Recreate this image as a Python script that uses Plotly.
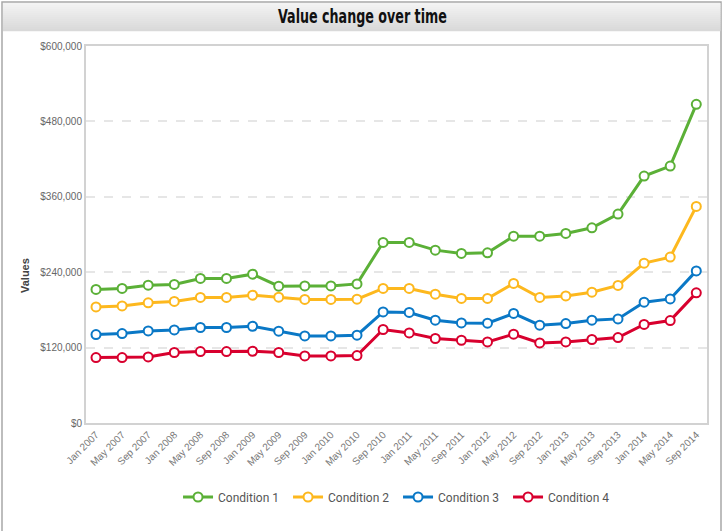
import plotly.graph_objects as go

categories = ["Jan 2007", "May 2007", "Sep 2007", "Jan 2008", "May 2008", "Sep 2008",
              "Jan 2009", "May 2009", "Sep 2009", "Jan 2010", "May 2010", "Sep 2010",
              "Jan 2011", "May 2011", "Sep 2011", "Jan 2012", "May 2012", "Sep 2012",
              "Jan 2013", "May 2013", "Sep 2013", "Jan 2014", "May 2014", "Sep 2014"]

condition_1 = [212500, 214100, 219400, 220500, 230000, 230000, 236900, 217800, 218200, 218200,
               221400, 287400, 287400, 275100, 269900, 270800, 297400, 297400, 301700, 310600,
               332500, 393000, 408900, 507200]
condition_2 = [184800, 186400, 191200, 193400, 199800, 199800, 203400, 200200, 196600, 196600,
               197100, 214100, 214100, 205000, 198200, 198200, 222100, 199800, 202300, 208200,
               218900, 254400, 264000, 344700]
condition_3 = [140800, 142400, 146600, 148200, 152000, 152000, 154000, 146100, 138600, 138600,
               139700, 176800, 175900, 163600, 159300, 158800, 174300, 155600, 158300, 163600,
               165700, 192300, 197500, 242100]
condition_4 = [104200, 104200, 105100, 112200, 113700, 113700, 114200, 112200, 106700, 106700,
               107400, 148800, 143400, 134500, 131700, 129000, 141300, 127400, 129000, 132900,
               136000, 156800, 163100, 207100]

series_names = ["Condition 1", "Condition 2", "Condition 3", "Condition 4"]
series_values = [condition_1, condition_2, condition_3, condition_4]
colors = ["#5BB037", "#FDB81E", "#0A78C6", "#D8002E"]

y_ticks = [0, 120000, 240000, 360000, 480000, 600000]
y_tick_labels = ["$0", "$120,000", "$240,000", "$360,000", "$480,000", "$600,000"]

W, H = 723, 531
L, R, T, B = 86, 16, 46, 108
PW, PH = W - L - R, H - T - B


def px(xp):
    return (xp - L) / PW


def py(yp):
    return (H - B - yp) / PH


fig = go.Figure()
for name, vals, col in zip(series_names, series_values, colors):
    fig.add_trace(go.Scatter(
        x=list(range(len(categories))), y=vals, name=name, mode="lines+markers",
        line=dict(color=col, width=3),
        marker=dict(symbol="circle", size=9, color="white", line=dict(color=col, width=2)),
    ))

shapes = []
# outer frame
shapes.append(dict(type="rect", xref="paper", yref="paper", x0=px(2), x1=px(721), y0=py(540), y1=py(2),
                   line=dict(color="#a8a8a8", width=1.5), fillcolor="rgba(0,0,0,0)", layer="below"))
# title gradient band
n = 14
top, bot = 3, 31
for i in range(n):
    y0 = top + (bot - top) * i / n
    y1 = top + (bot - top) * (i + 1) / n
    c = int(243 - (243 - 217) * i / (n - 1))
    shapes.append(dict(type="rect", xref="paper", yref="paper", x0=px(3), x1=px(720.5),
                       y0=py(y1 + 0.3), y1=py(y0), line=dict(width=0),
                       fillcolor=f"rgb({c},{c},{c})", layer="below"))

annotations = [
    dict(text="<b>Value change over time</b>", xref="paper", yref="paper", x=px(362), y=py(16),
         xanchor="center", yanchor="middle", showarrow=False,
         font=dict(family="Liberation Sans Narrow, DejaVu Sans", size=19, color="#111")),
    dict(text="<b>Values</b>", xref="paper", yref="paper", x=px(25), y=py(275), textangle=-90,
         xanchor="center", yanchor="middle", showarrow=False,
         font=dict(family="Liberation Sans, Arial", size=11, color="#444")),
]

fig.update_layout(
    width=W, height=H, margin=dict(l=L, r=R, t=T, b=B),
    paper_bgcolor="white", plot_bgcolor="white",
    shapes=shapes, annotations=annotations,
    showlegend=True,
    legend=dict(orientation="h", x=px(183) - 0.008, xanchor="left", y=py(497), yanchor="middle",
                font=dict(family="Roboto, Liberation Sans", size=12, color="#555"),
                entrywidth=65, entrywidthmode="pixels", bgcolor="rgba(0,0,0,0)"),
    xaxis=dict(
        tickmode="array", tickvals=list(range(len(categories))), ticktext=categories,
        range=[-10 / 26.09, 23 + 10.7 / 26.09], tickangle=-45,
        tickfont=dict(family="Liberation Sans, Arial", size=10, color="#777"),
        showgrid=False, zeroline=False, showline=True, mirror=True,
        linecolor="#d2d2d2", linewidth=2, ticks="",
    ),
    yaxis=dict(
        range=[0, 600000], tickmode="array", tickvals=y_ticks, ticktext=y_tick_labels,
        tickfont=dict(family="Liberation Sans, Arial", size=10, color="#666"),
        showgrid=True, gridcolor="#e6e6e6", griddash="dash", gridwidth=1.5,
        zeroline=False, showline=True, mirror=True, linecolor="#d2d2d2", linewidth=2, ticks="",
    ),
)

post = """
document.body.style.margin='0px';document.body.style.padding='0px';
document.querySelectorAll('.annotation-text').forEach(function(t){
  if (t.textContent.indexOf('Value change') === 0) {
    t.style.fontStretch = 'condensed';
    var b = t.getBBox();
    var cx = b.x + b.width / 2;
    var s = 169 / b.width;
    if (s < 1) {
      var prev = t.getAttribute('transform') || '';
      t.setAttribute('transform', prev + ' translate(' + cx + ',0) scale(' + s + ',1) translate(' + (-cx) + ',0)');
    }
  }
});
"""

fig.write_html("out.html", config={"displayModeBar": False}, post_script=post)
